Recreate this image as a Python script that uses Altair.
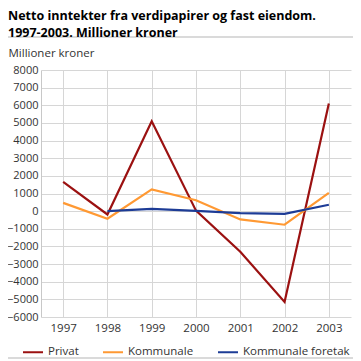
import altair as alt
import pandas as pd

years = ["1997", "1998", "1999", "2000", "2001", "2002", "2003"]
privat = [1660, -190, 5100, 30, -2300, -5150, 6100]
kommunale = [470, -430, 1230, 620, -470, -770, 1040]
foretak = [None, 0, 130, 20, -110, -150, 360]
series = ["Privat", "Kommunale", "Kommunale foretak"]
colors = ["#9b1111", "#ff9933", "#1d3c96"]
y_ticks = list(range(-6000, 8001, 1000))

rows = []
for name, vals in zip(series, [privat, kommunale, foretak]):
    for yr, v in zip(years, vals):
        if v is not None:
            rows.append({"year": yr, "value": v, "series": name})
df = pd.DataFrame(rows)

FONT = "Open Sans"

lines = alt.Chart(df).mark_line(strokeWidth=2.2).encode(
    x=alt.X("year:O", sort=years,
            scale=alt.Scale(type="point", padding=0.5),
            axis=alt.Axis(title=None, labelAngle=0, labelFontSize=11.5, labelColor="#333333",
                          labelFont=FONT, ticks=False, domain=False, grid=True,
                          gridColor="#d6d6d6", labelPadding=5)),
    y=alt.Y("value:Q", scale=alt.Scale(domain=[-6000, 8000], nice=False),
            axis=alt.Axis(values=y_ticks, format="d", title="Millioner kroner", titleAngle=0,
                          titleAlign="left", titleBaseline="middle", titleX=-33, titleY=-17,
                          titleFont=FONT, titleFontSize=11.5, titleFontWeight="normal",
                          titleColor="#333333",
                          labelFontSize=11, labelColor="#333333", labelFont=FONT,
                          ticks=False, domain=True, domainColor="#c8c8c8",
                          gridColor="#d6d6d6", labelPadding=3)),
    color=alt.Color("series:N", sort=series,
                    scale=alt.Scale(domain=series, range=colors),
                    legend=alt.Legend(title=None, orient="none", legendX=-19, legendY=271,
                                      direction="horizontal", symbolType="stroke",
                                      symbolSize=400, symbolStrokeWidth=2,
                                      labelFont=FONT, labelFontSize=11.5, labelColor="#333333",
                                      columnPadding=20, labelOffset=4)),
)

top_rule = alt.Chart(pd.DataFrame({"k": [0]})).mark_rule(color="#b5b5b5", strokeWidth=1.2).encode(
    x=alt.value(-41), x2=alt.value(330), y=alt.value(-33)
)
bottom_rule = alt.Chart(pd.DataFrame({"k": [0]})).mark_rule(color="#b5b5b5", strokeWidth=1.2).encode(
    x=alt.value(-41), x2=alt.value(330), y=alt.value(288)
)

chart = alt.layer(top_rule, bottom_rule, lines).properties(
    width=310, height=247,
    padding={"left": 33, "top": 62, "right": 2, "bottom": 44},
    autosize=alt.AutoSizeParams(type="none"),
    title=alt.TitleParams(
        text=["Netto inntekter fra verdipapirer og fast eiendom.", "1997-2003. Millioner kroner"],
        anchor="start", frame="group", dx=-33, dy=7, font=FONT, fontSize=12.5, fontWeight="bold",
        color="#000000", lineHeight=16.5, offset=4),
).configure_view(stroke=None)

chart.save("out.html", embed_options={"renderer": "svg", "actions": False})
